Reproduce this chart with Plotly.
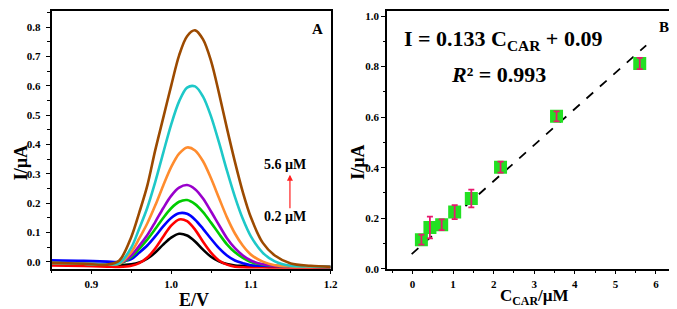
import plotly.graph_objects as go

# ---------------- Panel A data (DPV curves) ----------------
E = [0.85, 0.89, 0.92, 0.935, 0.95, 0.96, 0.97, 0.98, 0.99, 1.00, 1.01, 1.02, 1.03,
     1.04, 1.05, 1.06, 1.07, 1.08, 1.09, 1.10, 1.115, 1.13, 1.15, 1.175, 1.20]

I_black = [-0.002, -0.005, -0.009, -0.011, -0.008, -0.002, 0.011, 0.032, 0.059, 0.083, 0.096, 0.090, 0.070,
           0.042, 0.018, 0.002, -0.007, -0.012, -0.013, -0.014, -0.014, -0.015, -0.015, -0.016, -0.017]
I_red = [-0.012, -0.014, -0.016, -0.017, -0.013, -0.004, 0.015, 0.046, 0.086, 0.124, 0.145, 0.139, 0.110,
         0.069, 0.032, 0.005, -0.009, -0.016, -0.018, -0.019, -0.019, -0.020, -0.020, -0.020, -0.020]
I_blue = [0.006, 0.004, 0.001, 0.000, 0.010, 0.032, 0.056, 0.087, 0.121, 0.150, 0.166, 0.164, 0.144,
          0.113, 0.079, 0.047, 0.022, 0.005, -0.004, -0.011, -0.013, -0.014, -0.015, -0.016, -0.017]
I_green = [-0.004, -0.006, -0.009, -0.006, 0.017, 0.045, 0.076, 0.112, 0.150, 0.183, 0.205, 0.211, 0.197,
           0.170, 0.134, 0.096, 0.060, 0.033, 0.014, 0.000, -0.009, -0.013, -0.015, -0.016, -0.017]
I_purple = [-0.004, -0.006, -0.009, -0.005, 0.022, 0.055, 0.091, 0.136, 0.183, 0.225, 0.253, 0.262, 0.248,
            0.216, 0.172, 0.126, 0.081, 0.047, 0.022, 0.005, -0.008, -0.013, -0.015, -0.016, -0.017]
I_orange = [-0.004, -0.006, -0.009, -0.006, 0.034, 0.080, 0.131, 0.192, 0.260, 0.323, 0.369, 0.390, 0.380,
            0.343, 0.285, 0.218, 0.152, 0.097, 0.055, 0.025, 0.001, -0.011, -0.015, -0.016, -0.017]
I_cyan = [-0.003, -0.006, -0.009, -0.004, 0.049, 0.114, 0.184, 0.272, 0.371, 0.468, 0.547, 0.594, 0.598,
          0.563, 0.496, 0.407, 0.311, 0.222, 0.146, 0.087, 0.031, 0.002, -0.013, -0.015, -0.017]
I_brown = [-0.003, -0.006, -0.009, 0.005, 0.085, 0.168, 0.259, 0.380, 0.490, 0.600, 0.704, 0.769, 0.789,
           0.758, 0.685, 0.575, 0.455, 0.341, 0.237, 0.152, 0.065, 0.022, -0.005, -0.013, -0.017]

curves = [I_black, I_red, I_blue, I_green, I_purple, I_orange, I_cyan, I_brown]
curve_colors = ["#000000", "#ff0000", "#0000ff", "#00cc00", "#9900cc", "#ff8c2e", "#1ec8c8", "#9c4a00"]

# ---------------- Panel B data (calibration) ----------------
conc = [0.22, 0.43, 0.72, 1.04, 1.45, 2.17, 3.55, 5.60]
current = [0.115, 0.163, 0.174, 0.224, 0.278, 0.402, 0.603, 0.812]
err = [0.020, 0.043, 0.021, 0.028, 0.035, 0.022, 0.020, 0.022]
fit_x = [-0.02, 5.76]
fit_y = [0.058, 0.884]

FONT = "Liberation Serif"
W, H = 677, 309

fig = go.Figure()

for ys, col in zip(curves, curve_colors):
    fig.add_trace(go.Scatter(x=E, y=ys, mode="lines", line=dict(color=col, width=2.6, shape="spline", smoothing=0.9),
                             xaxis="x", yaxis="y", showlegend=False, hoverinfo="skip"))

fig.add_trace(go.Scatter(x=fit_x, y=fit_y, mode="lines", line=dict(color="black", width=1.8, dash="dash"),
                         xaxis="x2", yaxis="y2", showlegend=False))
fig.add_trace(go.Scatter(x=conc, y=current, mode="markers",
                         marker=dict(symbol="square", size=13, color="#22e022"),
                         xaxis="x2", yaxis="y2", showlegend=False))
fig.add_trace(go.Scatter(x=conc, y=current, mode="markers", marker=dict(size=1, color="rgba(0,0,0,0)"),
                         error_y=dict(type="data", array=err, color="#e8196e", thickness=1.8, width=3),
                         xaxis="x2", yaxis="y2", showlegend=False))

axis_common = dict(showline=True, linecolor="black", linewidth=1.5, mirror=True, ticks="outside",
                   ticklen=4, tickwidth=1.2, tickcolor="black", showgrid=False, zeroline=False,
                   tickfont=dict(family=FONT, size=11, color="black", weight="bold"))


def minor(dt, t0=None):
    d = dict(ticks="outside", ticklen=2.5, tickwidth=1, tickcolor="black", dtick=dt)
    if t0 is not None:
        d["tick0"] = t0
    return d


title_font = dict(family=FONT, size=18, color="black", weight="bold")

fig.update_layout(
    width=W, height=H,
    margin=dict(l=0, r=0, t=0, b=0),
    plot_bgcolor="white", paper_bgcolor="white",
    xaxis=dict(domain=[0.065, 0.4815], range=[0.85, 1.2], tickvals=[0.9, 1.0, 1.1, 1.2],
               ticktext=["0.9", "1.0", "1.1", "1.2"], anchor="y", minor=minor(0.05, 0.85), **axis_common),
    yaxis=dict(domain=[0.14, 0.9935], range=[-0.023, 0.855], dtick=0.1, tickformat=".1f", anchor="x",
               minor=minor(0.05), ticklabelstandoff=3, **axis_common),
    xaxis2=dict(domain=[0.5657, 0.9956], range=[-0.627, 6.47], dtick=1, anchor="y2",
                minor=minor(0.5), **axis_common),
    yaxis2=dict(domain=[0.14, 0.9935], range=[0, 1.02], dtick=0.2, tickformat=".1f", anchor="x2",
                minor=minor(0.1), **axis_common),
    annotations=[
        # axis titles
        dict(text="I/µA", x=14 / W, y=1 - 157 / H, xref="paper", yref="paper", textangle=-90, showarrow=False,
             xanchor="center", yanchor="middle", font=title_font),
        dict(text="E/V", x=188 / W, y=1 - 298 / H, xref="paper", yref="paper", showarrow=False,
             xanchor="center", yanchor="middle", font=title_font),
        dict(text="I/µA", x=354 / W, y=1 - 157 / H, xref="paper", yref="paper", textangle=-90, showarrow=False,
             xanchor="center", yanchor="middle", font=title_font),
        dict(text="C<sub>CAR</sub>/µM", x=532 / W, y=1 - 295 / H, xref="paper", yref="paper", showarrow=False,
             xanchor="center", yanchor="middle", font=dict(family=FONT, size=17, color="black", weight="bold")),
        # panel A labels
        dict(text="A", x=1.183, y=0.795, xref="x", yref="y", showarrow=False,
             font=dict(family=FONT, size=15, color="black", weight="bold")),
        dict(text="5.6 µM", x=1.143, y=0.333, xref="x", yref="y", showarrow=False,
             font=dict(family=FONT, size=14, color="black", weight="bold")),
        dict(text="0.2 µM", x=1.143, y=0.156, xref="x", yref="y", showarrow=False,
             font=dict(family=FONT, size=14, color="black", weight="bold")),
        dict(text="", x=1.149, y=0.297, ax=1.149, ay=0.178, xref="x", yref="y", axref="x", ayref="y",
             showarrow=True, arrowhead=2, arrowsize=1, arrowwidth=1.2, arrowcolor="#ff2020"),
        # panel B labels
        dict(text="B", x=6.2, y=0.955, xref="x2", yref="y2", showarrow=False,
             font=dict(family=FONT, size=15, color="black", weight="bold")),
        dict(text="I = 0.133 C<sub>CAR</sub> + 0.09", x=2.22, y=0.904, xref="x2", yref="y2", showarrow=False,
             font=dict(family=FONT, size=22, color="black", weight="bold")),
        dict(text="<i>R</i>² = 0.993", x=2.12, y=0.768, xref="x2", yref="y2", showarrow=False,
             font=dict(family=FONT, size=22, color="black", weight="bold")),
    ],
)

fig.write_html("out.html")
